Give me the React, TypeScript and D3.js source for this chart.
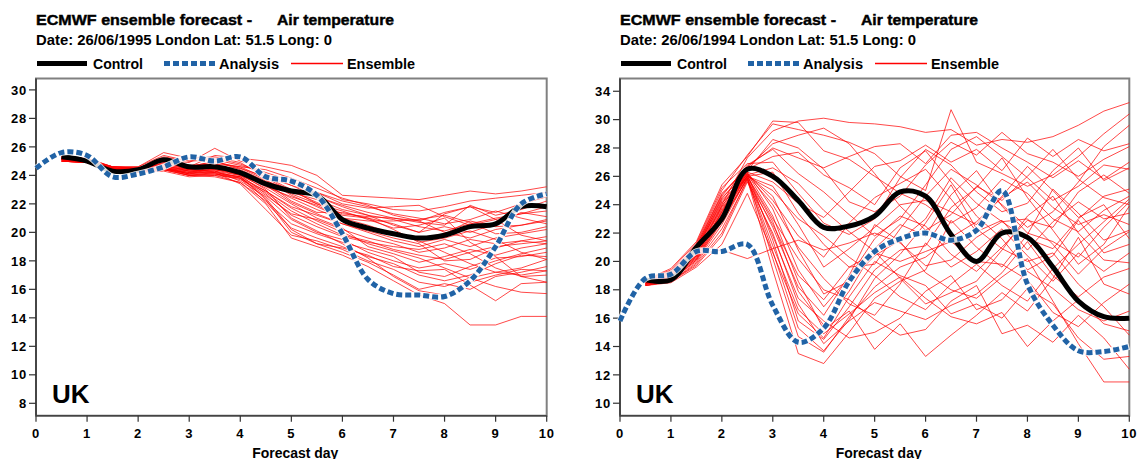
import React from 'react'
import * as d3 from 'd3'

// forecast steps (days)
const days = [0, 0.5, 1, 1.5, 2, 2.5, 3, 3.5, 4, 4.5, 5, 5.5, 6, 6.5, 7, 7.5, 8, 8.5, 9, 9.5, 10]
const dayTicks = [0, 1, 2, 3, 4, 5, 6, 7, 8, 9, 10]

// ---- 26/06/1995 ----
const leftAnalysis = [24.5, 25.6, 25.4, 23.9, 24.1, 24.6, 25.3, 25.0, 25.3, 23.9, 23.6, 22.6, 19.9, 16.7, 15.7, 15.6, 15.5, 16.6, 19.0, 22.0, 22.7]
// control and ensemble start at day 0.5
const leftControl = [25.3, 25.0, 24.3, 24.4, 25.1, 24.6, 24.6, 24.2, 23.4, 22.9, 22.6, 20.9, 20.3, 19.9, 19.6, 19.8, 20.4, 20.6, 21.8, 21.8]
const leftEnsemble = [
  [25.2, 25.0, 24.5, 24.4, 24.8, 24.6, 25.4, 25.2, 25.0, 24.7, 24.0, 22.6, 22.5, 22.4, 22.3, 22.6, 22.9, 22.7, 22.9, 23.2],
  [25.3, 25.1, 24.6, 24.5, 25.1, 24.9, 25.9, 25.0, 24.6, 24.2, 23.4, 22.3, 22.0, 21.6, 21.5, 21.8, 22.2, 22.4, 22.6, 22.8],
  [25.1, 24.9, 24.4, 24.3, 24.6, 24.4, 24.8, 24.6, 24.4, 23.8, 23.1, 22.4, 21.9, 21.2, 20.8, 21.4, 21.8, 21.4, 22.0, 22.5],
  [25.2, 25.0, 24.5, 24.5, 25.3, 25.0, 25.2, 24.8, 24.1, 23.3, 22.5, 21.9, 21.4, 21.0, 20.7, 20.5, 21.9, 21.2, 21.6, 22.2],
  [25.0, 24.9, 24.3, 24.3, 24.5, 24.1, 24.5, 24.3, 23.4, 22.8, 22.3, 21.6, 21.2, 20.9, 20.4, 20.1, 20.6, 21.0, 21.3, 21.5],
  [25.3, 25.2, 24.6, 24.6, 25.6, 25.2, 25.3, 24.9, 23.9, 23.0, 22.0, 21.2, 21.0, 20.6, 20.0, 20.4, 20.0, 20.6, 21.4, 21.1],
  [25.1, 25.0, 24.4, 24.4, 24.7, 24.3, 24.4, 24.0, 23.3, 22.4, 21.6, 20.9, 20.3, 19.9, 19.6, 19.9, 20.8, 20.4, 20.5, 20.8],
  [25.2, 25.1, 24.5, 24.3, 24.4, 24.2, 24.6, 24.5, 23.7, 22.6, 21.8, 21.0, 20.8, 20.8, 20.9, 21.2, 20.7, 19.9, 20.0, 20.4],
  [25.0, 24.9, 24.3, 24.2, 24.5, 24.0, 24.2, 23.9, 22.9, 21.8, 21.2, 20.6, 20.0, 19.4, 19.0, 19.5, 19.0, 19.6, 19.9, 20.2],
  [25.2, 25.0, 24.5, 24.4, 24.9, 24.4, 24.3, 23.8, 22.6, 21.3, 20.9, 20.2, 19.6, 19.2, 18.6, 18.9, 19.5, 19.2, 19.4, 19.7],
  [25.1, 24.9, 24.4, 24.3, 24.6, 24.1, 24.1, 23.7, 22.8, 21.5, 20.6, 19.8, 19.4, 18.8, 18.4, 18.1, 18.6, 19.0, 19.2, 19.4],
  [25.3, 25.1, 24.6, 24.5, 25.0, 24.5, 24.6, 24.0, 23.1, 22.0, 21.0, 20.3, 19.0, 18.5, 17.9, 18.3, 18.8, 18.4, 18.9, 19.2],
  [25.2, 25.0, 24.5, 24.4, 24.6, 24.2, 24.3, 23.6, 22.5, 20.9, 20.0, 19.5, 18.6, 18.0, 17.5, 17.8, 17.4, 18.0, 18.5, 18.9],
  [25.1, 25.0, 24.4, 24.3, 24.4, 24.0, 24.0, 23.5, 22.2, 20.6, 19.9, 19.3, 18.8, 18.3, 17.2, 16.9, 17.6, 18.2, 18.3, 18.6],
  [25.0, 24.9, 24.3, 24.2, 24.3, 23.9, 24.0, 23.8, 22.1, 20.3, 19.6, 19.0, 18.3, 17.8, 17.0, 16.6, 17.0, 17.8, 18.4, 18.3],
  [25.2, 25.0, 24.5, 24.4, 24.7, 24.3, 24.2, 23.4, 21.6, 19.8, 19.4, 18.8, 18.0, 17.4, 16.5, 16.2, 16.8, 17.2, 17.5, 18.1],
  [25.1, 24.9, 24.4, 24.4, 24.5, 24.1, 24.1, 23.9, 22.4, 20.2, 19.2, 18.6, 17.9, 17.0, 16.0, 16.4, 16.0, 16.9, 17.2, 17.6],
  [25.2, 25.0, 24.5, 24.5, 24.8, 24.4, 24.5, 24.1, 23.0, 21.0, 20.1, 19.2, 18.2, 16.9, 15.9, 15.6, 16.5, 17.0, 17.4, 17.3],
  [25.0, 24.9, 24.3, 24.3, 24.4, 24.0, 23.9, 23.5, 22.0, 19.6, 19.0, 18.4, 17.6, 16.6, 15.6, 15.0, 13.5, 13.5, 14.1, 14.1],
  [25.3, 25.1, 24.6, 24.5, 25.2, 24.7, 24.8, 24.3, 23.5, 22.2, 21.4, 21.4, 21.0, 20.2, 19.3, 19.6, 20.1, 19.5, 18.6, 18.1],
  [25.2, 25.0, 24.5, 24.4, 24.9, 24.6, 25.0, 24.4, 23.6, 23.0, 22.5, 21.8, 21.2, 20.5, 20.0, 21.3, 21.8, 20.9, 19.8, 19.4],
  [25.1, 25.0, 24.4, 24.3, 24.5, 24.3, 24.4, 24.2, 23.2, 22.5, 21.9, 21.0, 20.5, 19.9, 19.4, 18.6, 17.8, 17.2, 17.0, 17.3],
  [25.2, 25.1, 24.5, 24.4, 24.7, 24.4, 24.7, 24.3, 23.5, 22.7, 22.0, 21.5, 20.9, 20.3, 20.5, 21.0, 19.3, 18.3, 16.9, 16.5],
  [25.0, 24.9, 24.3, 24.2, 24.4, 24.0, 24.1, 23.8, 22.9, 21.7, 20.8, 20.0, 19.2, 18.7, 18.2, 17.5, 16.8, 16.2, 15.8, 15.7],
  [25.3, 25.2, 24.6, 24.6, 25.4, 25.0, 25.1, 24.7, 24.2, 23.6, 22.8, 22.2, 21.8, 21.3, 21.0, 20.6, 20.9, 21.5, 21.0, 20.6],
  [25.1, 24.9, 24.4, 24.3, 24.5, 24.1, 24.3, 24.0, 22.7, 21.2, 20.4, 19.7, 19.3, 19.0, 18.8, 19.2, 18.5, 17.5, 16.9, 17.0],
  [25.2, 25.0, 24.5, 24.4, 24.6, 24.3, 24.4, 24.1, 23.3, 22.1, 21.3, 20.6, 20.1, 19.6, 19.2, 18.0, 18.1, 18.9, 19.4, 19.2],
  [25.1, 25.0, 24.4, 24.4, 24.8, 24.5, 24.9, 24.6, 23.8, 22.9, 22.1, 21.3, 21.1, 21.0, 20.8, 20.0, 19.6, 20.2, 20.5, 20.9],
  [25.2, 25.1, 24.5, 24.5, 25.0, 24.6, 25.0, 24.5, 23.9, 23.3, 22.8, 22.0, 21.7, 21.8, 21.9, 21.1, 20.5, 20.9, 21.3, 21.8],
  [25.0, 24.9, 24.3, 24.3, 24.5, 24.2, 24.2, 23.9, 22.3, 20.0, 19.2, 18.9, 18.4, 17.6, 17.3, 17.4, 16.3, 15.2, 16.4, 16.5]
]
const leftTicks = [8, 10, 12, 14, 16, 18, 20, 22, 24, 26, 28, 30]
const leftTickLabels = ['8', '10', '12', '14', '16', '18', '20', '22', '24', '26', '28', '30']

// ---- 26/06/1994 ----
const rightAnalysis = [15.8, 18.8, 19.1, 20.7, 20.7, 21.2, 16.9, 14.3, 15.3, 18.6, 20.7, 21.6, 22.0, 21.5, 22.2, 25.0, 18.4, 15.5, 13.7, 13.65, 14.0]
const rightControl = [18.7, 18.7, 21.0, 23.0, 26.5, 26.0, 24.3, 22.4, 22.5, 23.2, 24.9, 24.6, 21.9, 20.0, 22.0, 21.7, 19.6, 17.2, 16.1, 16.0]
const rightEnsemble = [
  [18.6, 19.0, 20.8, 24.0, 27.3, 29.2, 29.9, 30.1, 29.8, 29.7, 29.5, 29.1, 29.3, 28.2, 28.6, 28.4, 28.8, 29.6, 30.6, 31.2],
  [18.5, 19.2, 21.2, 25.0, 27.5, 29.7, 29.3, 28.9, 28.4, 27.6, 26.0, 25.0, 30.7, 27.0, 26.2, 25.3, 26.1, 27.4, 29.0, 30.4],
  [18.4, 18.9, 20.4, 23.5, 26.4, 28.6, 28.0, 26.5, 24.2, 23.5, 24.6, 26.8, 28.4, 27.5, 29.1, 27.6, 27.0, 26.0, 27.2, 28.1],
  [18.7, 19.3, 21.0, 24.6, 26.8, 27.9, 26.2, 24.9, 23.3, 21.8, 23.0, 25.4, 27.9, 28.8, 27.4, 25.9, 24.3, 25.3, 26.8, 26.5],
  [18.5, 19.0, 20.6, 23.8, 26.0, 26.3, 23.4, 21.2, 19.6, 19.8, 22.3, 24.6, 26.5, 25.4, 24.0, 22.4, 23.5, 25.6, 28.1, 29.6],
  [18.6, 19.1, 20.9, 24.2, 26.1, 24.6, 20.8, 17.7, 18.6, 20.4, 21.5, 23.0, 25.9, 24.1, 22.8, 21.6, 20.9, 23.0, 24.6, 25.1],
  [18.4, 18.8, 20.2, 23.1, 26.0, 22.8, 17.9, 15.5, 17.9, 20.9, 22.6, 21.8, 24.7, 26.4, 23.9, 22.0, 21.4, 20.3, 22.4, 24.2],
  [18.5, 18.9, 20.5, 23.4, 26.2, 21.5, 15.8, 14.5, 16.8, 19.4, 20.8, 21.1, 23.8, 25.2, 27.3, 24.5, 22.2, 19.8, 21.2, 23.9],
  [18.3, 18.7, 20.0, 22.6, 25.9, 20.2, 14.7, 13.6, 16.1, 18.2, 19.6, 20.3, 21.7, 22.8, 24.5, 25.6, 23.8, 22.6, 23.3, 22.6],
  [18.4, 18.6, 19.8, 22.0, 25.8, 19.4, 13.5, 12.8, 15.0, 17.4, 18.6, 19.4, 22.9, 21.0, 19.6, 21.9, 25.1, 23.4, 21.5, 22.2],
  [18.6, 19.0, 20.7, 23.9, 26.3, 23.7, 19.4, 16.8, 18.9, 21.6, 23.2, 22.5, 20.5, 19.3, 21.0, 22.9, 22.4, 24.9, 26.1, 24.8],
  [18.5, 19.1, 20.9, 24.1, 26.0, 25.3, 22.6, 19.6, 20.9, 22.4, 24.0, 24.3, 23.5, 22.6, 24.6, 26.7, 25.0, 23.1, 24.0, 21.6],
  [18.7, 19.4, 21.3, 25.2, 26.9, 27.0, 24.8, 22.7, 21.9, 23.0, 25.9, 27.9, 26.8, 24.9, 23.5, 24.1, 26.4, 28.0, 25.7, 26.6],
  [18.4, 18.8, 20.3, 23.2, 26.1, 24.0, 21.0, 18.8, 17.0, 16.2, 18.4, 21.3, 19.6, 20.7, 22.3, 20.4, 18.6, 20.6, 19.3, 20.6],
  [18.3, 18.6, 19.7, 21.8, 25.6, 22.0, 17.0, 14.2, 15.8, 17.1, 16.5, 15.9, 16.9, 17.7, 19.2, 21.4, 19.0, 17.5, 18.9, 19.5],
  [18.5, 18.9, 20.4, 23.6, 26.2, 23.2, 18.6, 15.2, 16.5, 13.8, 15.6, 13.3, 14.8, 16.2, 17.8, 16.5, 18.8, 21.7, 18.4, 17.7],
  [18.4, 18.7, 20.1, 22.9, 25.9, 21.1, 16.6, 14.9, 16.3, 17.8, 18.9, 17.4, 16.1, 15.6, 16.4, 14.0, 15.8, 17.3, 15.6, 15.1],
  [18.6, 19.0, 20.6, 23.7, 26.0, 22.4, 18.2, 16.2, 19.0, 22.6, 21.4, 19.2, 18.0, 17.4, 18.9, 20.2, 17.2, 14.2, 11.5, 11.5],
  [18.3, 18.5, 19.6, 21.2, 24.8, 20.6, 16.3, 14.6, 17.5, 20.0, 19.0, 18.3, 16.3, 17.0, 16.0, 18.1, 17.0, 14.6, 13.1, 13.3],
  [18.5, 19.0, 20.5, 20.8, 20.2, 20.9, 21.5, 20.8, 21.3, 22.0, 21.3, 19.7, 20.1, 21.7, 22.8, 23.0, 21.2, 19.1, 20.9, 22.1],
  [18.6, 19.2, 21.0, 24.4, 26.6, 28.3, 28.9, 29.4, 28.3, 26.2, 23.9, 22.2, 23.3, 25.3, 24.3, 26.0, 27.9, 25.8, 24.5, 24.0],
  [18.7, 19.5, 21.4, 25.4, 27.4, 29.9, 29.8, 27.8, 27.2, 26.0, 24.8, 24.0, 22.7, 23.8, 25.8, 24.8, 23.0, 22.1, 23.6, 24.6],
  [18.5, 19.1, 20.8, 24.3, 26.1, 26.6, 25.5, 23.6, 22.1, 20.7, 18.8, 17.0, 17.8, 18.6, 20.8, 23.2, 24.6, 22.0, 20.1, 19.9],
  [18.4, 18.9, 20.3, 23.3, 26.0, 25.0, 23.0, 21.8, 20.3, 19.0, 17.5, 16.6, 18.4, 19.8, 18.3, 17.2, 19.5, 21.2, 22.8, 24.4],
  [18.6, 19.2, 21.1, 24.8, 26.5, 27.4, 27.7, 26.1, 25.2, 24.0, 26.6, 27.8, 25.6, 23.2, 21.6, 19.4, 20.4, 22.9, 20.6, 21.2],
  [18.3, 18.6, 19.9, 22.3, 25.7, 22.6, 19.0, 17.3, 19.6, 20.6, 20.0, 20.7, 21.4, 20.0, 19.8, 18.7, 16.4, 15.4, 17.1, 18.4],
  [18.5, 19.0, 20.6, 23.9, 26.3, 25.6, 24.1, 23.1, 24.9, 26.7, 27.1, 28.2, 27.0, 27.9, 26.4, 28.7, 27.4, 28.6, 27.8, 28.3],
  [18.4, 18.8, 20.2, 23.0, 25.8, 20.7, 15.3, 13.7, 15.9, 18.8, 20.5, 22.7, 25.4, 22.3, 20.9, 20.0, 20.6, 18.4, 16.8, 14.8],
  [18.6, 19.1, 20.9, 24.5, 26.2, 24.3, 21.8, 20.3, 22.7, 24.5, 25.5, 26.5, 24.4, 22.1, 22.9, 20.8, 22.8, 24.2, 23.0, 23.4],
  [18.5, 18.9, 20.4, 23.5, 26.0, 23.0, 20.2, 18.0, 17.3, 15.9, 14.8, 15.2, 17.2, 18.3, 14.9, 15.5, 14.3, 16.2, 14.6, 12.4],
  [18.7, 19.3, 21.1, 24.7, 26.7, 28.0, 27.3, 26.6, 27.4, 28.1, 28.3, 26.9, 28.9, 29.1, 28.0, 27.0, 25.9, 27.1, 25.8, 27.0],
  [18.4, 18.7, 20.1, 22.8, 25.9, 21.8, 17.4, 15.8, 14.6, 15.0, 16.0, 17.9, 19.0, 16.6, 17.3, 19.3, 18.1, 16.6, 15.8, 16.5]
]
const rightTicks = [10, 12, 14, 16, 18, 20, 22, 24, 26, 28, 30, 32]
// the original labels the top tick "34"
const rightTickLabels = ['10', '12', '14', '16', '18', '20', '22', '24', '26', '28', '30', '34']

const FONT = '"Liberation Sans", Arial, sans-serif'
const BLUE = '#2163a6'
const plotTop = 78.5
const plotBottom = 415.7

type PanelProps = {
  left: number
  right: number
  domain: [number, number]
  date: string
  analysis: number[]
  control: number[]
  ensemble: number[][]
  ticks: number[]
  tickLabels: string[]
}

function Panel({ left, right, domain, date, analysis, control, ensemble, ticks, tickLabels }: PanelProps) {
  const x = d3.scaleLinear().domain([0, 10]).range([left, right])
  const y = d3.scaleLinear().domain(domain).range([plotBottom, plotTop])
  const fcDays = days.slice(1)

  const ensLine = d3
    .line<number>()
    .x((d, i) => x(fcDays[i]))
    .y(d => y(d))
  const ctrlLine = d3
    .line<number>()
    .x((d, i) => x(fcDays[i]))
    .y(d => y(d))
    .curve(d3.curveCatmullRom.alpha(0.5))
  const anLine = d3
    .line<number>()
    .x((d, i) => x(days[i]))
    .y(d => y(d))
    .curve(d3.curveCatmullRom.alpha(0.5))

  return (
    <g fontFamily={FONT} fontWeight="bold" fill="#000">
      <g stroke="#000" strokeWidth={0.45}>
        <text x={left} y={25} fontSize={15.5} textLength={216} lengthAdjust="spacingAndGlyphs">ECMWF ensemble forecast -</text>
        <text x={left + 241} y={25} fontSize={15.5} textLength={117} lengthAdjust="spacingAndGlyphs">Air temperature</text>
      </g>
      <text x={left} y={45} fontSize={15} textLength={296} lengthAdjust="spacingAndGlyphs">{`Date: ${date} London Lat: 51.5 Long: 0`}</text>

      {/* legend */}
      <line x1={left + 1} x2={left + 51} y1={63.5} y2={63.5} stroke="#000" strokeWidth={5} />
      <text x={left + 57} y={68.5} fontSize={14} textLength={50} lengthAdjust="spacingAndGlyphs">Control</text>
      <line x1={left + 128} x2={left + 179} y1={63.5} y2={63.5} stroke={BLUE} strokeWidth={5} strokeDasharray="6,3" />
      <text x={left + 183} y={68.5} fontSize={14} textLength={60} lengthAdjust="spacingAndGlyphs">Analysis</text>
      <line x1={left + 255} x2={left + 307} y1={63.5} y2={63.5} stroke="#ff0000" strokeWidth={1.4} />
      <text x={left + 311} y={68.5} fontSize={14} textLength={68} lengthAdjust="spacingAndGlyphs">Ensemble</text>

      {/* frame */}
      <rect x={left} y={plotTop} width={right - left} height={plotBottom - plotTop} fill="#fff" stroke="#808080" strokeWidth={2} />
      <line x1={left} x2={left} y1={plotTop} y2={plotBottom} stroke="#333" strokeWidth={1.5} />
      <line x1={left} x2={right} y1={plotBottom} y2={plotBottom} stroke="#444" strokeWidth={1.5} />

      {/* y axis */}
      {ticks.map((t, i) => (
        <g key={t}>
          <line x1={left - 7} x2={left} y1={y(t)} y2={y(t)} stroke="#333" strokeWidth={1.2} />
          <text x={left - 9} y={y(t)} dy="0.36em" textAnchor="end" fontSize={13} letterSpacing={0.8}>
            {tickLabels[i]}
          </text>
        </g>
      ))}

      {/* x axis */}
      {dayTicks.map(t => (
        <g key={t}>
          <line x1={x(t)} x2={x(t)} y1={plotBottom} y2={plotBottom + 6} stroke="#333" strokeWidth={1.2} />
          <text x={x(t)} y={438} textAnchor="middle" fontSize={13} letterSpacing={0.8}>
            {t}
          </text>
        </g>
      ))}
      <text x={(left + right) / 2 + 4} y={457.5} textAnchor="middle" fontSize={14} textLength={86} lengthAdjust="spacingAndGlyphs">Forecast day</text>

      {/* series */}
      <g fill="none">
        {ensemble.map((m, i) => (
          <path key={i} d={ensLine(m) || ''} stroke="#ff0000" strokeWidth={0.9} strokeOpacity={0.8} />
        ))}
        <path d={ctrlLine(control) || ''} stroke="#000" strokeWidth={5} strokeLinejoin="round" />
        <path d={anLine(analysis) || ''} stroke="#fff" strokeWidth={6.5} strokeOpacity={0.85} />
        <path d={anLine(analysis) || ''} stroke={BLUE} strokeWidth={5} strokeDasharray="6,3" />
      </g>

      <text x={left + 16} y={402.7} fontSize={25} textLength={37.5} lengthAdjust="spacingAndGlyphs">UK</text>
    </g>
  )
}

export default function App() {
  return (
    <svg width={1141} height={459} style={{ position: 'absolute', left: 0, top: 0, background: '#fff' }}>
      <Panel
        left={36}
        right={546.7}
        domain={[7.13, 30.8]}
        date="26/06/1995"
        analysis={leftAnalysis}
        control={leftControl}
        ensemble={leftEnsemble}
        ticks={leftTicks}
        tickLabels={leftTickLabels}
      />
      <Panel
        left={620}
        right={1129.3}
        domain={[9.12, 32.9]}
        date="26/06/1994"
        analysis={rightAnalysis}
        control={rightControl}
        ensemble={rightEnsemble}
        ticks={rightTicks}
        tickLabels={rightTickLabels}
      />
    </svg>
  )
}
